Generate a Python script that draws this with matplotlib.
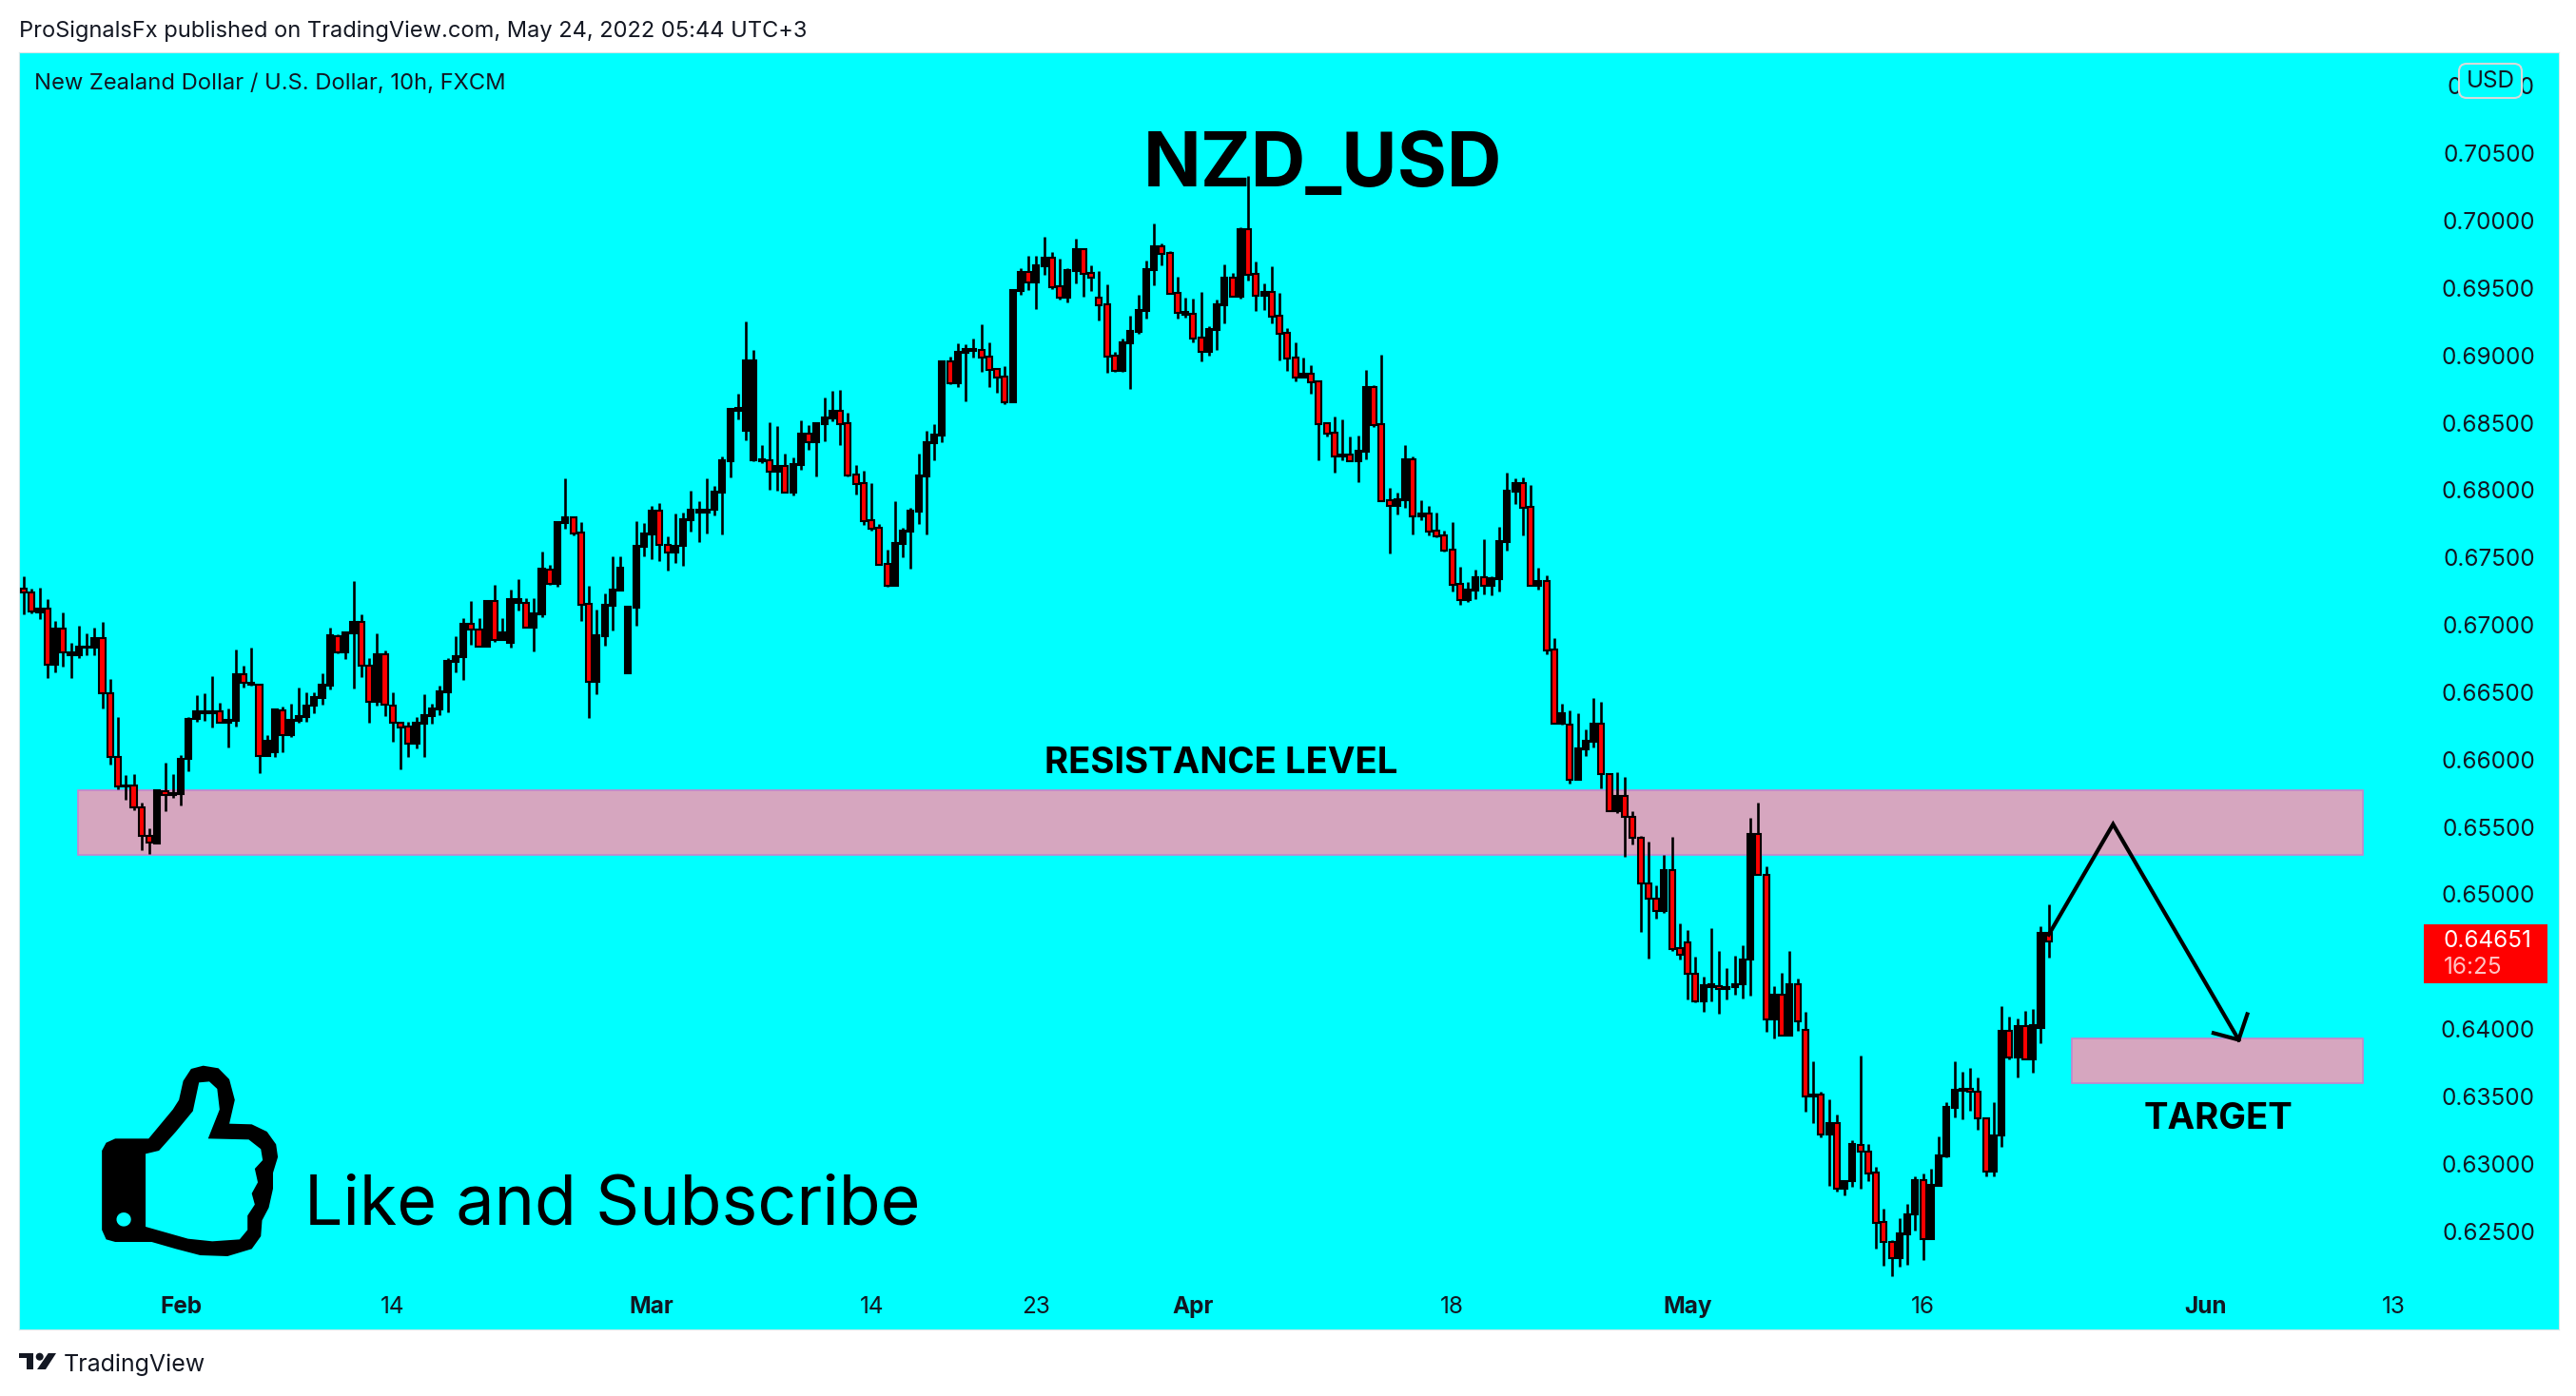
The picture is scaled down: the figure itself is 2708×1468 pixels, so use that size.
import numpy as np
import matplotlib
matplotlib.use("Agg")
import matplotlib.pyplot as plt
from matplotlib.patches import Rectangle, FancyBboxPatch, PathPatch, Polygon, Ellipse
from matplotlib.path import Path

plt.rcParams["font.family"] = ["Inter", "DejaVu Sans"]

W, H = 2708, 1468
BG = "#00FFFF"
INK = "#131722"

# prices in points (1e-5)
highs = [
    67358,67271,67274,67189,67031,67095,66864,66991,66935,66977,
    67019,66600,66318,65882,65890,65682,65487,65769,65974,65890,
    66035,66313,66476,66490,66617,66419,66377,66815,66695,66829,
    66560,66179,66377,66391,66412,66532,66497,66502,66638,66977,
    66928,66942,67323,67076,66751,66935,66808,66497,66276,66278,
    66318,66483,66412,66546,66751,66914,67048,67175,67048,67175,
    67295,67048,67260,67337,67196,67196,67542,67443,67768,68086,
    67803,67761,67288,67111,67231,67507,67507,67140,67768,67754,
    67881,67902,67656,67825,67832,67995,67917,68086,68030,68249,
    68609,68715,69252,69040,68334,68503,68475,68270,68242,68517,
    68482,68496,68687,68736,68743,68574,68185,68143,68051,67747,
    67557,67917,67719,67868,68270,68440,68489,68962,68990,69089,
    69082,69125,69230,69096,68906,68920,69485,69647,69739,69739,
    69880,69767,69718,69647,69866,69788,69668,69626,69527,69026,
    69125,69294,69449,69704,69979,69831,69774,69584,69428,69421,
    69471,69216,69414,69675,69612,69951,70332,69697,69534,69661,
    69464,69202,69096,68983,68927,68807,68503,68546,68524,68397,
    68404,68892,68779,69005,68016,67981,68334,68249,67924,67882,
    67832,67698,67762,67430,67317,67409,67635,67359,67726,68129,
    68087,68094,68037,67423,67366,66900,66413,66364,66342,66222,
    66455,66427,65900,65908,65873,65619,65433,65392,65068,65295,
    65427,64784,64735,64538,64387,64751,64581,64454,64541,64622,
    65565,65681,65206,64319,64419,64576,64378,64127,63762,63535,
    63481,63362,62873,63178,63800,63143,62978,62667,62432,62597,
    62705,62903,62930,62965,63205,63454,63762,63686,63708,63643,
    63346,63459,64173,64095,64076,64138,64146,64765,64922,
]
body_tops = [
    67271,67243,67123,67123,66975,66975,66798,66841,66841,66904,
    66904,66494,66021,65809,65809,65647,65435,65769,65767,65748,
    66007,66304,66360,66360,66360,66360,66292,66636,66636,66572,
    66558,66141,66370,66367,66292,66320,66403,66462,66553,66921,
    66918,66942,67019,67019,66699,66784,66784,66403,66276,66243,
    66271,66327,66377,66504,66730,66765,67005,67005,66968,67175,
    67175,66942,67189,67189,67165,67083,67415,67413,67761,67796,
    67796,67683,67154,66921,67147,67260,67422,67132,67584,67676,
    67846,67846,67597,67590,67783,67858,67858,67858,67988,68221,
    68602,68607,68962,68962,68232,68225,68178,68178,68192,68418,
    68418,68496,68538,68588,68588,68496,68115,68051,67776,67719,
    67451,67606,67698,67846,68108,68355,68411,68955,68955,69026,
    69047,69047,69040,68990,68899,68842,69485,69619,69619,69668,
    69725,69725,69513,69633,69788,69788,69612,69428,69379,68997,
    69096,69181,69336,69640,69810,69810,69760,69464,69322,69308,
    69132,69195,69379,69577,69577,69937,69937,69605,69471,69471,
    69294,69167,68983,68863,68863,68807,68496,68426,68261,68261,
    68291,68765,68765,68489,67924,67931,68228,68228,67825,67825,
    67698,67663,67557,67303,67260,67352,67352,67345,67621,67995,
    68051,68051,67875,67324,67324,66815,66342,66258,66081,66137,
    66265,66265,65895,65733,65733,65576,65422,65081,64968,65181,
    65181,64603,64643,64411,64322,64330,64319,64314,64335,64516,
    65446,65446,65146,64257,64257,64335,64335,63995,63513,63513,
    63303,63303,62873,63143,63140,63089,62935,62567,62419,62486,
    62627,62881,62881,62846,63065,63424,63546,63559,63559,63535,
    63335,63211,63989,63989,64022,64022,64030,64716,64711,
]
body_bottoms = [
    67241,67099,67092,66704,66704,66796,66772,66772,66829,66829,
    66492,66019,65800,65798,65645,65433,65383,65376,65739,65736,
    65741,66005,66299,66344,66344,66273,66273,66287,66567,66553,
    66026,66026,66054,66179,66179,66285,66313,66398,66454,66546,
    66796,66793,66935,66695,66426,66426,66407,66271,66236,66116,
    66116,66264,66320,66370,66497,66723,66758,66963,66836,66836,
    66885,66885,66864,67161,66977,66977,67076,67307,67302,67754,
    67676,67149,66575,66575,66914,67140,67253,66638,67125,67577,
    67669,67591,67540,67538,67585,67776,67832,67832,67853,67981,
    68214,68588,68440,68221,68214,68136,68136,67981,67981,68185,
    68355,68355,68489,68531,68489,68108,68044,67769,67712,67444,
    67288,67288,67599,67691,67839,68101,68348,68404,68793,68793,
    69019,69033,68983,68892,68835,68651,68651,69478,69541,69541,
    69661,69506,69428,69428,69626,69605,69577,69372,68990,68884,
    68884,69089,69174,69329,69633,69755,69456,69315,69301,69125,
    69026,69026,69188,69372,69435,69435,69598,69442,69442,69287,
    69160,68976,68835,68835,68800,68489,68418,68249,68249,68214,
    68214,68284,68482,67919,67882,67882,67924,67804,67804,67691,
    67656,67550,67296,67183,67183,67253,67289,67289,67338,67613,
    67988,67868,67289,67289,66808,66265,66265,65848,65848,66074,
    66130,65890,65619,65616,65576,65419,65084,64968,64876,64876,
    64597,64551,64411,64208,64208,64314,64297,64297,64314,64330,
    64516,65141,64070,64070,63954,63954,64054,63497,63497,63216,
    63216,62813,62813,62873,63089,62930,62562,62416,62297,62297,
    62478,62621,62438,62438,62838,63057,63416,63541,63535,63335,
    62940,62940,63211,63789,63789,63773,63773,64005,64649,
]
lows = [
    67076,67083,67041,66605,66645,66688,66605,66753,66772,66772,
    66377,65960,65777,65701,65621,65325,65296,65376,65614,65713,
    65656,65911,66278,66285,66236,66273,66087,66243,66532,66546,
    65897,66026,66017,66052,66165,66271,66278,66341,66405,66518,
    66786,66744,66525,66610,66271,66398,66320,66130,65925,66017,
    66080,66017,66264,66327,66349,66645,66589,66850,66836,66836,
    66871,66885,66829,67104,66977,66801,67055,67295,67281,67712,
    67662,67027,66306,66483,66843,66956,67253,66638,66991,67507,
    67486,67471,67401,67458,67437,67691,67613,67677,67811,67670,
    68094,68524,68369,68214,68199,68002,67995,67981,67959,68150,
    68298,68101,68362,68510,68334,68101,67966,67740,67698,67444,
    67281,67288,67500,67416,67747,67670,68221,68355,68786,68764,
    68658,68983,68877,68764,68722,68637,68651,69449,69485,69343,
    69598,69492,69414,69393,69534,69435,69478,69259,68870,68877,
    68877,68750,69160,69273,69520,69668,69456,69273,69280,69096,
    68955,68997,69040,69238,69435,69421,69555,69329,69336,69238,
    68962,68884,68807,68835,68715,68221,68397,68129,68221,68214,
    68058,68228,68468,67919,67529,67818,67868,67670,67776,67663,
    67649,67543,67246,67147,67169,67190,67225,67218,67246,67550,
    67896,67663,67289,67260,66780,66265,66258,65820,65848,66024,
    66088,65784,65619,65603,65279,65368,64719,64522,64816,64860,
    64576,64516,64216,64195,64127,64205,64111,64216,64257,64224,
    64251,65141,63978,63932,63949,63954,63989,63389,63305,63197,
    62838,62797,62767,62832,62816,62873,62373,62246,62167,62238,
    62251,62503,62286,62438,62838,63049,63346,63332,63397,63254,
    62908,62908,63122,63778,63643,63773,63676,63897,64533,
]
# candle numbers that closed down (red body)
down_candles = [
    1,2,4,6,11,12,13,15,16,17,19,26,29,31,34,41,44,45,47,48,49,50,58,59,61,65,68,
    71,72,73,82,83,96,98,101,105,106,107,108,109,110,111,119,123,124,125,126,129,
    132,133,136,137,138,139,140,146,147,148,150,151,155,157,158,160,161,162,163,
    165,166,167,168,170,173,174,175,178,180,181,182,183,184,187,192,193,195,196,
    198,202,203,205,206,207,208,209,211,212,213,214,217,222,223,225,227,228,230,
    232,235,236,237,238,239,243,249,250,251,254,256,259,
]

x_tick_pos = [20, 47, 80, 108, 129, 149, 182, 212, 242, 278, 302]
x_tick_labels = ["Feb", "14", "Mar", "14", "23", "Apr", "18", "May", "16", "Jun", "13"]
bold_ticks = ["Feb", "Mar", "Apr", "May", "Jun"]
# 0.645 is not listed, the last price tag covers it
y_ticks = [0.625, 0.63, 0.635, 0.64, 0.65, 0.655, 0.66, 0.665, 0.67, 0.675,
           0.68, 0.685, 0.69, 0.695, 0.70, 0.705, 0.71]

resistance_zone = (6.9, 298, 0.6529, 0.65775)
target_zone = (261, 298, 0.6360, 0.6393)
path_idx = [258, 266.2, 282.2]
path_price = [0.6470, 0.6552, 0.6392]
arrow_idx = [279, 282.2, 283.3]
arrow_price = [0.6397, 0.6392, 0.6411]

highs_p = np.array(highs) / 1e5
lows_p = np.array(lows) / 1e5
tops_p = np.array(body_tops) / 1e5
bottoms_p = np.array(body_bottoms) / 1e5
idx = np.arange(len(highs))
is_down = np.isin(idx + 1, down_candles)


def fx(x):
    return x / W


def fy(y):
    return 1 - y / H


fig = plt.figure(figsize=(W / 100, H / 100), dpi=100, facecolor="white")
ax = fig.add_axes([fx(20), fy(1398), (2690 - 20) / W, (1398 - 55) / H])
ax.set_facecolor(BG)
ax.set_xlim(-0.606, 323)
ax.set_ylim(0.6177, 0.7125)

for s in ax.spines.values():
    s.set_color("#d5e6e8")
    s.set_linewidth(0.8)

# zones go under the candles
for x0, x1, y0, y1 in [resistance_zone, target_zone]:
    ax.add_patch(Rectangle((x0, y0), x1 - x0, y1 - y0, facecolor="#D6A6BF",
                           edgecolor="#C884CC", linewidth=1.2, zorder=2))

ax.vlines(idx, lows_p, highs_p, color="black", linewidth=1.9, zorder=3)
ax.bar(idx, tops_p - bottoms_p, bottom=bottoms_p, width=0.74,
       color=np.where(is_down, "#FF0000", "#000000").tolist(),
       edgecolor="black", linewidth=1.5, zorder=4)

ax.plot(path_idx, path_price, color="black", linewidth=3.0, zorder=5, solid_joinstyle="miter")
ax.plot(arrow_idx, arrow_price, color="black", linewidth=3.0, zorder=5, solid_joinstyle="miter")

# axis labels sit inside the plot, like on the tradingview export
ax.set_xticks(x_tick_pos)
ax.set_xticklabels(x_tick_labels)
ax.tick_params(axis="x", length=0, pad=-25.5, labelsize=17.5, labelcolor=INK)
for lab in ax.get_xticklabels():
    if lab.get_text() in bold_ticks:
        lab.set_fontweight("bold")
ax.yaxis.tick_right()
ax.set_yticks(y_ticks)
ax.set_yticklabels(["%.5f" % v for v in y_ticks])
ax.tick_params(axis="y", length=0, pad=-18, labelsize=17.5, labelcolor=INK)
for lab in ax.get_yticklabels():
    lab.set_horizontalalignment("right")
    lab.set_y(lab.get_position()[1])

# header / footer
fig.text(fx(20), fy(33), "ProSignalsFx published on TradingView.com, May 24, 2022 05:44 UTC+3",
         fontsize=17.0, color=INK, va="center", ha="left")
fig.text(fx(36), fy(88), "New Zealand Dollar / U.S. Dollar, 10h, FXCM",
         fontsize=17.1, color=INK, va="center", ha="left")
fig.text(fx(67), fy(1435), "TradingView", fontsize=18, color=INK, va="center", ha="left")

# chart drawings
fig.text(fx(1390), fy(175), "NZD_USD", fontsize=57.4, fontweight="bold", color="black",
         va="center", ha="center")
fig.text(fx(1284), fy(803), "RESISTANCE LEVEL", fontsize=27.6, fontweight="bold", color="black",
         va="center", ha="center")
fig.text(fx(2332), fy(1177), "TARGET", fontsize=27.6, fontweight="bold", color="black",
         va="center", ha="center")
fig.text(fx(320), fy(1269), "Like and Subscribe", fontsize=51.7, color="black",
         va="center", ha="left")

# USD box over the top tick
usd = FancyBboxPatch((fx(2585), fy(103)), 66 / W, 36 / H,
                     boxstyle="round,pad=0,rounding_size=0.003", transform=fig.transFigure,
                     facecolor=BG, edgecolor="#d9d9d9", linewidth=1.5, zorder=6, mutation_aspect=W / H)
fig.add_artist(usd)
fig.text(fx(2618), fy(85), "USD", fontsize=17.5, color=INK, va="center", ha="center", zorder=7)

# last price tag
tag = Rectangle((fx(2548), fy(1034)), 130 / W, 62 / H, transform=fig.transFigure,
                facecolor="#FF0000", edgecolor="none", zorder=6)
fig.add_artist(tag)
fig.text(fx(2569), fy(990), "0.64651", fontsize=17.5, color="white", va="center", ha="left", zorder=7)
fig.text(fx(2569), fy(1018), "16:25", fontsize=17.5, color="#FFC4C4", va="center", ha="left", zorder=7)


def crop_pts(pts):
    # points measured on the 1000x388 crop of the lower left corner
    return [(fx(a / 1.568), fy(1080 + b / 3)) for a, b in pts]


thumb_outer = [(168, 390), (175, 365), (190, 352), (245, 352), (285, 260), (295, 230), (302, 170),
               (315, 132), (335, 122), (360, 130), (378, 165), (387, 230), (378, 305), (415, 307),
               (440, 330), (455, 370), (458, 410), (450, 460), (450, 510), (443, 570), (432, 610),
               (430, 660), (415, 700), (375, 723), (330, 720), (290, 700), (250, 678), (190, 678),
               (175, 670), (168, 640)]
thumb_inner = [(240, 400), (262, 390), (290, 330), (318, 265), (328, 175), (345, 172), (358, 195),
               (362, 260), (343, 352), (410, 355), (430, 385), (433, 420), (420, 447), (425, 490),
               (415, 525), (420, 560), (408, 595), (408, 640), (395, 670), (350, 676), (310, 668),
               (240, 630)]
thumb_dot = [(204 + 12 * np.cos(t), 607 + 22 * np.sin(t)) for t in np.linspace(0, 2 * np.pi, 24)[:-1]]


def ring_area(r):
    a = np.array(r)
    return 0.5 * np.sum(a[:, 0] * np.roll(a[:, 1], -1) - np.roll(a[:, 0], -1) * a[:, 1])


# holes must wind the other way round from the outline
verts, codes = [], []
outer_sign = np.sign(ring_area(crop_pts(thumb_outer)))
for ring, is_hole in [(thumb_outer, False), (thumb_inner, True), (thumb_dot, True)]:
    r = crop_pts(ring)
    if is_hole and np.sign(ring_area(r)) == outer_sign:
        r = r[::-1]
    verts += r + [r[0]]
    codes += [Path.MOVETO] + [Path.LINETO] * (len(r) - 1) + [Path.CLOSEPOLY]
fig.add_artist(PathPatch(Path(verts, codes), facecolor="black", edgecolor="none",
                         transform=fig.transFigure, zorder=6))

# tradingview logo
logo_t = [(20, 1423), (35, 1423), (35, 1440), (28, 1440), (28, 1428), (20, 1428)]
logo_v = [(50.7, 1423), (59, 1423), (48, 1440), (39, 1440)]
for shape in [logo_t, logo_v]:
    pts = [(fx(a), fy(b)) for a, b in shape]
    fig.add_artist(Polygon(pts, closed=True, facecolor=INK, edgecolor="none",
                           transform=fig.transFigure))
fig.add_artist(Ellipse((fx(41.7), fy(1426.7)), 8 / W, 8 / H, facecolor=INK, edgecolor="none",
                       transform=fig.transFigure))

fig.savefig("out.png", dpi=100, facecolor="white")
